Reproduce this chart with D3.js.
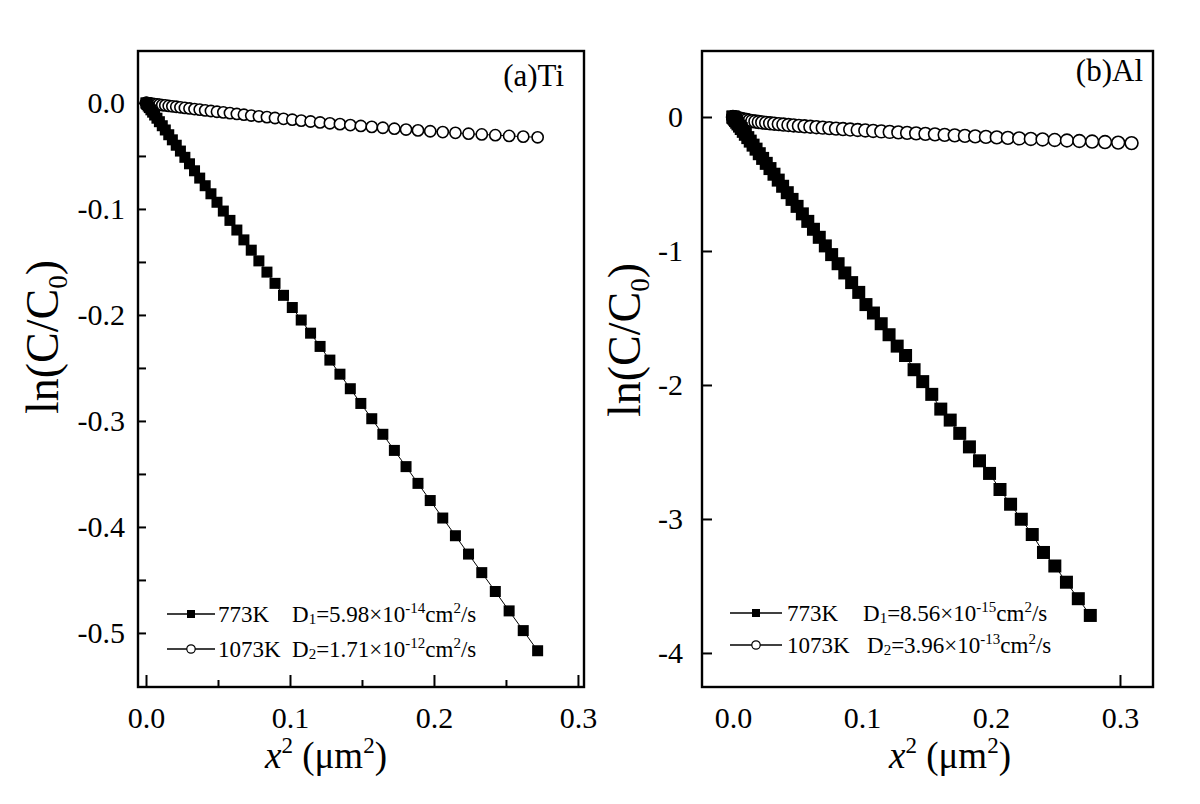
<!DOCTYPE html>
<html><head><meta charset="utf-8">
<script src="https://cdn.jsdelivr.net/npm/d3@7"></script>
<style>
body{margin:0;background:#fff}
svg{display:block}
svg text{font-family:"Liberation Serif","DejaVu Serif",serif !important;fill:#000}
</style>
</head><body>
<svg id="c" width="1200" height="804"></svg>
<script>
// ---------- DATA ----------
// Panel (a) Ti : x^2 (um^2) and ln(C/C0)
const tiX = [0,0.0001,0.0004,0.0008,0.0015,0.0023,0.0034,0.0046,0.0060,0.0076,0.0093,0.0113,0.0134,0.0158,0.0183,0.0210,0.0239,0.0270,0.0302,0.0337,0.0373,0.0411,0.0451,0.0493,0.0537,0.0583,0.0631,0.0680,0.0731,0.0784,0.0840,0.0896,0.0955,0.1016,0.1078,0.1143,0.1209,0.1277,0.1347,0.1419,0.1492,0.1568,0.1645,0.1725,0.1806,0.1889,0.1974,0.2061,0.2149,0.2240,0.2332,0.2426,0.2522,0.2620,0.2720];
const tiY773 = [0,-0.0002,-0.0008,-0.0015,-0.0029,-0.0044,-0.0065,-0.0087,-0.0114,-0.0144,-0.0177,-0.0215,-0.0255,-0.0300,-0.0348,-0.0399,-0.0454,-0.0513,-0.0574,-0.0640,-0.0709,-0.0781,-0.0857,-0.0937,-0.1020,-0.1108,-0.1199,-0.1292,-0.1389,-0.1490,-0.1596,-0.1702,-0.1815,-0.1930,-0.2048,-0.2172,-0.2297,-0.2426,-0.2559,-0.2696,-0.2835,-0.2979,-0.3126,-0.3278,-0.3431,-0.3589,-0.3751,-0.3916,-0.4083,-0.4256,-0.4431,-0.4609,-0.4792,-0.4978,-0.5168];
const tiY1073 = [0,0,-0.0001,-0.0001,-0.0003,-0.0004,-0.0006,-0.0008,-0.0011,-0.0013,-0.0016,-0.0020,-0.0023,-0.0028,-0.0032,-0.0036,-0.0041,-0.0047,-0.0052,-0.0058,-0.0063,-0.0070,-0.0076,-0.0083,-0.0089,-0.0096,-0.0104,-0.0111,-0.0119,-0.0126,-0.0134,-0.0142,-0.0150,-0.0158,-0.0167,-0.0175,-0.0184,-0.0192,-0.0200,-0.0209,-0.0217,-0.0226,-0.0234,-0.0243,-0.0251,-0.0259,-0.0267,-0.0275,-0.0282,-0.0290,-0.0297,-0.0304,-0.0311,-0.0318,-0.0324];

// Panel (b) Al
const alX773 = [0,0.0001,0.0003,0.0007,0.0013,0.0020,0.0029,0.0039,0.0051,0.0064,0.0080,0.0096,0.0115,0.0134,0.0156,0.0179,0.0204,0.0230,0.0258,0.0287,0.0318,0.0351,0.0385,0.0421,0.0458,0.0497,0.0538,0.0580,0.0624,0.0669,0.0716,0.0765,0.0815,0.0867,0.0920,0.0975,0.1031,0.1089,0.1149,0.1210,0.1273,0.1338,0.1404,0.1471,0.1541,0.1611,0.1684,0.1758,0.1833,0.1911,0.1989,0.2070,0.2152,0.2235,0.2320,0.2407,0.2495,0.2585,0.2677,0.2770];
const alY773 = [0,-0.001,-0.004,-0.009,-0.017,-0.027,-0.039,-0.052,-0.068,-0.086,-0.107,-0.129,-0.154,-0.180,-0.210,-0.240,-0.274,-0.309,-0.346,-0.385,-0.427,-0.471,-0.517,-0.565,-0.615,-0.667,-0.723,-0.779,-0.838,-0.898,-0.962,-1.027,-1.095,-1.164,-1.236,-1.309,-1.400,-1.463,-1.543,-1.625,-1.710,-1.780,-1.886,-1.975,-2.070,-2.180,-2.262,-2.361,-2.462,-2.566,-2.660,-2.780,-2.890,-3.002,-3.116,-3.250,-3.351,-3.472,-3.595,-3.720];
const alX1073 = [0,0.0001,0.0004,0.0008,0.0014,0.0022,0.0032,0.0043,0.0057,0.0072,0.0089,0.0107,0.0128,0.0150,0.0174,0.0200,0.0227,0.0257,0.0288,0.0320,0.0355,0.0391,0.0430,0.0470,0.0511,0.0555,0.0600,0.0647,0.0696,0.0747,0.0799,0.0853,0.0909,0.0967,0.1026,0.1087,0.1150,0.1215,0.1282,0.1350,0.1420,0.1492,0.1566,0.1641,0.1719,0.1798,0.1878,0.1961,0.2045,0.2131,0.2219,0.2309,0.2400,0.2494,0.2589,0.2685,0.2784,0.2884,0.2986,0.3090];
const alY1073 = [0,-0.0010,-0.0020,-0.0030,-0.0045,-0.0060,-0.0080,-0.0100,-0.0130,-0.0160,-0.0195,-0.0230,-0.0270,-0.0305,-0.0340,-0.0377,-0.0407,-0.0439,-0.0470,-0.0500,-0.0532,-0.0564,-0.0597,-0.0630,-0.0662,-0.0696,-0.0729,-0.0763,-0.0797,-0.0832,-0.0866,-0.0901,-0.0936,-0.0971,-0.1006,-0.1041,-0.1077,-0.1114,-0.1150,-0.1187,-0.1223,-0.1259,-0.1297,-0.1334,-0.1371,-0.1409,-0.1447,-0.1484,-0.1522,-0.1560,-0.1599,-0.1637,-0.1676,-0.1715,-0.1753,-0.1792,-0.1832,-0.1871,-0.1911,-0.1950];

// Tick values / labels
const tiXTicks = [0, 0.1, 0.2, 0.3];
const tiXTickLabels = ["0.0", "0.1", "0.2", "0.3"];
const tiXMinor = [0.05, 0.15, 0.25];
const tiYTicks = [0, -0.1, -0.2, -0.3, -0.4, -0.5];
const tiYTickLabels = ["0.0", "-0.1", "-0.2", "-0.3", "-0.4", "-0.5"];
const tiYMinor = [-0.05, -0.15, -0.25, -0.35, -0.45];
const alXTicks = [0, 0.1, 0.2, 0.3];
const alXTickLabels = ["0.0", "0.1", "0.2", "0.3"];
const alXVisibleTicks = [0.3];
const alYTicks = [0, -1, -2, -3, -4];
const alYTickLabels = ["0", "-1", "-2", "-3", "-4"];

const seriesNames = ["773K", "1073K"];
const tiLegendD = [["D", "1", "=5.98\u00d710", "-14"], ["D", "2", "=1.71\u00d710", "-12"]];
const alLegendD = [["D", "1", "=8.56\u00d710", "-15"], ["D", "2", "=3.96\u00d710", "-13"]];

// ---------- DRAW ----------
const FONT = '"Liberation Serif","DejaVu Serif",serif';
const svg = d3.select("#c");

function panel(cfg) {
  const x = d3.scaleLinear().domain(cfg.xDomain).range([cfg.left, cfg.right]);
  const y = d3.scaleLinear().domain(cfg.yDomain).range([cfg.bottom, cfg.top]);
  const g = svg.append("g");

  const xa = g.append("g").attr("transform", `translate(0,${cfg.bottom})`)
    .call(d3.axisBottom(x).tickValues(cfg.xTicks)
      .tickFormat((d, i) => cfg.xTickLabels[i])
      .tickSizeInner(cfg.xTickShow ? -12 : 0).tickSizeOuter(0).tickPadding(20));
  xa.attr("font-family", FONT);
  xa.select(".domain").remove();
  xa.selectAll("text").attr("font-size", 30).style("font-family", FONT);
  if (cfg.xExtraTicks) {
    g.append("g").attr("transform", `translate(0,${cfg.bottom})`)
      .call(d3.axisBottom(x).tickValues(cfg.xExtraTicks).tickFormat("").tickSizeInner(-12).tickSizeOuter(0))
      .select(".domain").remove();
  }
  if (cfg.xMinor) {
    g.append("g").attr("transform", `translate(0,${cfg.bottom})`)
      .call(d3.axisBottom(x).tickValues(cfg.xMinor).tickFormat("").tickSizeInner(-7).tickSizeOuter(0))
      .select(".domain").remove();
  }
  const ya = g.append("g").attr("transform", `translate(${cfg.left},0)`)
    .call(d3.axisLeft(y).tickValues(cfg.yTicks)
      .tickFormat((d, i) => cfg.yTickLabels[i])
      .tickSizeInner(-cfg.yTickLen).tickSizeOuter(0).tickPadding(cfg.yPad));
  ya.attr("font-family", FONT);
  ya.select(".domain").remove();
  ya.selectAll("text").attr("font-size", 30).style("font-family", FONT);
  if (cfg.yMinor) {
    g.append("g").attr("transform", `translate(${cfg.left},0)`)
      .call(d3.axisLeft(y).tickValues(cfg.yMinor)
        .tickFormat("").tickSizeInner(-cfg.yTickLen).tickSizeOuter(0))
      .select(".domain").remove();
  }
  g.selectAll(".tick line").attr("stroke", "#000").attr("stroke-width", 2);

  g.append("rect").attr("x", cfg.left).attr("y", cfg.top)
    .attr("width", cfg.right - cfg.left).attr("height", cfg.bottom - cfg.top)
    .attr("fill", "none").attr("stroke", "#000").attr("stroke-width", 2.4);

  const line = d3.line().x(d => x(d[0])).y(d => y(d[1]));
  const circ = cfg.xs1073.map((v, i) => [v, cfg.ys1073[i]]);
  const sq = cfg.xs773.map((v, i) => [v, cfg.ys773[i]]);

  g.append("path").datum(circ).attr("d", line).attr("fill", "none").attr("stroke", "#000").attr("stroke-width", 1);
  g.append("g").selectAll("circle").data(circ).join("circle")
    .attr("cx", d => x(d[0])).attr("cy", d => y(d[1])).attr("r", cfg.cr)
    .attr("fill", "#fff").attr("stroke", "#000").attr("stroke-width", 1.6);
  g.append("path").datum(sq).attr("d", line).attr("fill", "none").attr("stroke", "#000").attr("stroke-width", 1);
  g.append("g").selectAll("rect").data(sq).join("rect")
    .attr("x", d => x(d[0]) - cfg.sq / 2).attr("y", d => y(d[1]) - cfg.sq / 2)
    .attr("width", cfg.sq).attr("height", cfg.sq).attr("fill", "#000");

  g.append("text").attr("x", cfg.labelX).attr("y", cfg.labelY).attr("text-anchor", "end")
    .attr("font-size", 31).style("font-family", FONT).text(cfg.label);

  const xt = g.append("text").attr("x", cfg.xTitleX).attr("y", 768).attr("text-anchor", "middle")
    .attr("font-size", 37).style("font-family", FONT);
  xt.append("tspan").attr("font-style", "italic").text("x");
  xt.append("tspan").attr("font-size", 23).attr("dy", -15).text("2");
  xt.append("tspan").attr("dy", 15).text(" (\u03bcm");
  xt.append("tspan").attr("font-size", 23).attr("dy", -15).text("2");
  xt.append("tspan").attr("dy", 15).text(")");

  const yt = g.append("text").attr("transform", `translate(${cfg.yTitleX},${cfg.yTitleY}) rotate(-90)`)
    .attr("text-anchor", "middle").attr("font-size", 46).style("font-family", FONT);
  yt.append("tspan").text("ln(C/C");
  yt.append("tspan").attr("font-size", 27).attr("dy", 9).text("0");
  yt.append("tspan").attr("dy", -9).text(")");

  const lg = cfg.legend;
  [0, 1].forEach(k => {
    const ry = lg.rows[k];
    g.append("line").attr("x1", lg.x0).attr("x2", lg.x1).attr("y1", ry).attr("y2", ry)
      .attr("stroke", "#000").attr("stroke-width", 1.5);
    const mx = (lg.x0 + lg.x1) / 2;
    if (k === 0) {
      g.append("rect").attr("x", mx - 4).attr("y", ry - 4).attr("width", 8).attr("height", 8).attr("fill", "#000");
    } else {
      g.append("circle").attr("cx", mx).attr("cy", ry).attr("r", 4.2).attr("fill", "#fff").attr("stroke", "#000").attr("stroke-width", 1.2);
    }
    g.append("text").attr("x", lg.tx).attr("y", ry + 8).attr("font-size", 23).style("font-family", FONT).text(seriesNames[k]);
    const parts = lg.d[k];
    const t = g.append("text").attr("x", lg.dx[k]).attr("y", ry + 8).attr("font-size", 23).style("font-family", FONT);
    t.append("tspan").text(parts[0]);
    t.append("tspan").attr("font-size", 15).attr("dy", 2).text(parts[1]);
    t.append("tspan").attr("dy", -2).text(parts[2]);
    t.append("tspan").attr("font-size", 15).attr("dy", -9).text(parts[3]);
    t.append("tspan").attr("dy", 9).text("cm");
    t.append("tspan").attr("font-size", 15).attr("dy", -9).text("2");
    t.append("tspan").attr("dy", 9).text("/s");
  });
}

panel({
  left: 138, right: 584, top: 51, bottom: 687,
  xDomain: [-0.00556, 0.3042], yDomain: [-0.551, 0.049],
  xTicks: tiXTicks, xTickLabels: tiXTickLabels, xTickShow: true, xMinor: tiXMinor,
  yTicks: tiYTicks, yTickLabels: tiYTickLabels, yMinor: tiYMinor, yTickLen: 8, yPad: 13,
  xs773: tiX, ys773: tiY773, xs1073: tiX, ys1073: tiY1073, sq: 11, cr: 5.6,
  label: "(a)Ti", labelX: 564, labelY: 86,
  xTitleX: 326, yTitleX: 58, yTitleY: 337,
  legend: { x0: 167, x1: 215, rows: [614, 649], tx: 218, dx: [292, 292], d: tiLegendD }
});
panel({
  left: 702, right: 1153, top: 51, bottom: 687,
  xDomain: [-0.024, 0.3256], yDomain: [-4.254, 0.4925],
  xTicks: alXTicks, xTickLabels: alXTickLabels, xTickShow: false, xExtraTicks: alXVisibleTicks,
  yTicks: alYTicks, yTickLabels: alYTickLabels, yTickLen: 10, yPad: 19,
  xs773: alX773, ys773: alY773, xs1073: alX1073, ys1073: alY1073, sq: 13, cr: 6.4,
  label: "(b)Al", labelX: 1143, labelY: 81,
  xTitleX: 950, yTitleX: 640, yTitleY: 340,
  legend: { x0: 730, x1: 782, rows: [613, 645], tx: 787, dx: [863, 867], d: alLegendD }
});
</script>
</body></html>
